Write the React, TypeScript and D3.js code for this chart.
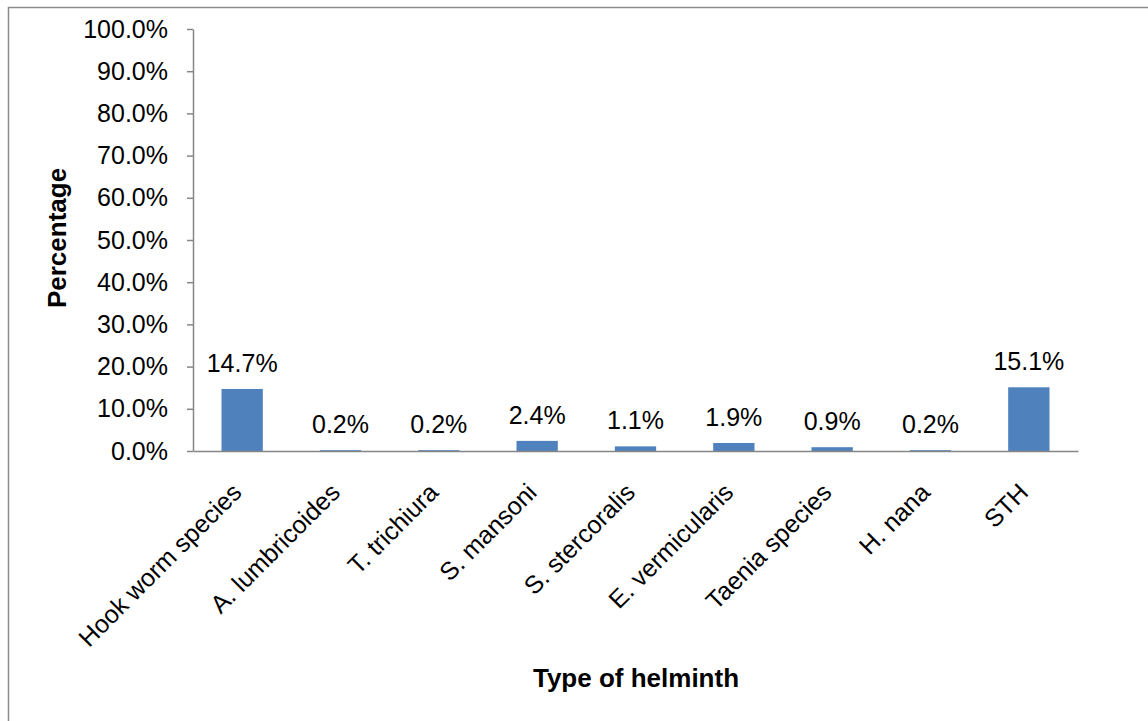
import React, { useEffect, useRef } from 'react';
import * as d3 from 'd3';

const categories = [
    'Hook worm species',
    'A. lumbricoides',
    'T. trichiura',
    'S. mansoni',
    'S. stercoralis',
    'E. vermicularis',
    'Taenia species',
    'H. nana',
    'STH'
];
const values = [14.7, 0.2, 0.2, 2.4, 1.1, 1.9, 0.9, 0.2, 15.1];
const yTicks = [0, 10, 20, 30, 40, 50, 60, 70, 80, 90, 100];

export default function App() {
    const ref = useRef<SVGSVGElement>(null);

    useEffect(() => {
        const svg = d3.select(ref.current);
        svg.selectAll('*').remove();

        const font = 'Liberation Sans, Arial, sans-serif';
        const left = 193, right = 1078, top = 29, bottom = 451;

        // outer frame
        svg.append('rect')
            .attr('x', 8.5).attr('y', 7.5)
            .attr('width', 1200).attr('height', 800)
            .attr('fill', 'white')
            .attr('stroke', '#8c8c8c')
            .attr('stroke-width', 1.5);

        const x = d3.scaleBand()
            .domain(categories)
            .range([left, right])
            .paddingInner(0.58)
            .paddingOuter(0.29);

        const y = d3.scaleLinear()
            .domain([0, 100])
            .range([bottom, top]);

        // y axis
        const yAxis = svg.append('g')
            .attr('transform', 'translate(' + left + ',0)')
            .call(d3.axisLeft(y).tickValues(yTicks).tickSize(6).tickSizeOuter(0)
                .tickFormat((d: any) => d3.format('.1f')(d) + '%'));
        yAxis.selectAll('path, line').attr('stroke', '#868686').attr('stroke-width', 1.5);
        yAxis.selectAll('text')
            .attr('font-family', font)
            .attr('font-size', 25)
            .attr('fill', '#000')
            .attr('x', -25);

        // bars
        svg.selectAll('rect.bar')
            .data(values)
            .enter()
            .append('rect')
            .attr('class', 'bar')
            .attr('x', (d, i) => x(categories[i]) as number)
            .attr('y', d => y(d))
            .attr('width', x.bandwidth())
            .attr('height', d => bottom - y(d))
            .attr('fill', '#4f81bd');

        // x axis line
        const xAxis = svg.append('g')
            .attr('transform', 'translate(0,' + bottom + ')')
            .call(d3.axisBottom(x).tickSize(0).tickSizeOuter(0).tickFormat(() => ''));
        xAxis.select('path').attr('stroke', '#868686').attr('stroke-width', 1.5);

        // value labels
        svg.selectAll('text.val')
            .data(values)
            .enter()
            .append('text')
            .attr('class', 'val')
            .attr('x', (d, i) => (x(categories[i]) as number) + x.bandwidth() / 2)
            .attr('y', d => y(d) - 17)
            .attr('text-anchor', 'middle')
            .attr('font-family', font)
            .attr('font-size', 25)
            .text(d => d.toFixed(1) + '%');

        // category labels
        svg.selectAll('text.cat')
            .data(categories)
            .enter()
            .append('text')
            .attr('class', 'cat')
            .attr('transform', d => 'translate(' + ((x(d) as number) + x.bandwidth() / 2 + 1) + ',' + (bottom + 43) + ') rotate(-45)')
            .attr('text-anchor', 'end')
            .attr('font-family', font)
            .attr('font-size', 25)
            .text(d => d);

        // axis titles
        svg.append('text')
            .attr('x', 636)
            .attr('y', 687)
            .attr('text-anchor', 'middle')
            .attr('font-family', font)
            .attr('font-weight', 'bold')
            .attr('font-size', 26)
            .text('Type of helminth');

        svg.append('text')
            .attr('transform', 'translate(66,238) rotate(-90)')
            .attr('text-anchor', 'middle')
            .attr('font-family', font)
            .attr('font-weight', 'bold')
            .attr('font-size', 26)
            .text('Percentage');
    }, []);

    return (
        <svg ref={ref} width={1148} height={721}
            style={{ position: 'absolute', left: 0, top: 0, background: 'white' }} />
    );
}
